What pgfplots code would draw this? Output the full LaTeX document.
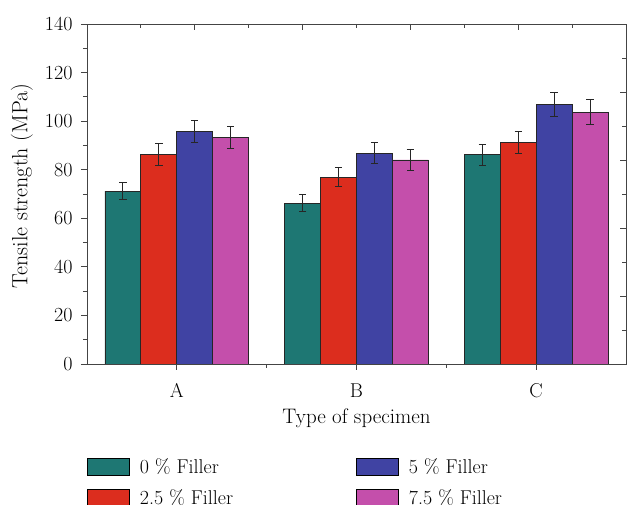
\documentclass[border=0pt]{standalone}
\usepackage{pgfplots}
\pgfplotsset{compat=1.18}
\definecolor{cteal}{HTML}{1E7773}
\definecolor{cred}{HTML}{DC2D1E}
\definecolor{cblue}{HTML}{4043A3}
\definecolor{cpink}{HTML}{C44FAB}
\definecolor{axgray}{HTML}{444444}
\begin{document}
\begin{tikzpicture}
\begin{axis}[
  width=539pt, height=340pt, scale only axis,
  xmin=-0.5, xmax=2.5, ymin=0, ymax=140,
  axis line style={axgray, line width=0.9pt},
  xtick={0,1,2}, xticklabels={A,B,C}, minor xtick={0.5,1.5},
  ytick={0,20,...,140}, minor ytick={10,30,...,130},
  xtick pos=bottom, ytick pos=left,
  tick align=outside,
  major tick length=6pt, minor tick length=4pt,
  tick style={axgray, line width=0.9pt},
  /pgf/number format/assume math mode=true,
  tick label style={font=\fontsize{20}{24}\selectfont, black},
  yticklabel style={xshift=-5pt},
  xticklabel style={yshift=-10pt},
  xlabel={Type of specimen},
  ylabel={Tensile strength (MPa)},
  xlabel style={font=\fontsize{21}{25}\selectfont, at={(axis description cs:0.5,0)}, anchor=north, yshift=-41pt},
  ylabel style={font=\fontsize{22}{26}\selectfont, at={(axis description cs:-0.1206,0.5235)}, anchor=center},
  ybar, bar width=0.2,
  legend image code/.code={\draw[#1, draw=black, line width=0.8pt] (0pt,-8.5pt) rectangle (42pt,8.5pt);},
  legend columns=2, transpose legend,
  legend style={draw=none, fill=none, inner sep=0pt, font=\fontsize{20}{24}\selectfont,
    at={(0,0)}, anchor=north west, xshift=0pt, yshift=-92pt,
    row sep=11pt,
    /tikz/every odd column/.append style={column sep=8pt},
    /tikz/every even column/.append style={column sep=121pt}},
  legend cell align=left,
  error bars/y dir=both, error bars/y explicit,
  error bars/error bar style={line width=1pt, black!85},
  error bars/error mark options={rotate=90, mark size=3.7pt, line width=1pt, black!85},
]
\addplot[fill=cteal, draw=black!85, line width=0.8pt, bar shift=-0.3] coordinates {(0,71.2) +- (0,3.6) (1,66.2) +- (0,3.4) (2,86.1) +- (0,4.4)};
\addplot[fill=cred, draw=black!85, line width=0.8pt, bar shift=-0.1] coordinates {(0,86.2) +- (0,4.4) (1,76.9) +- (0,3.9) (2,91.3) +- (0,4.6)};
\addplot[fill=cblue, draw=black!85, line width=0.8pt, bar shift=0.1] coordinates {(0,95.6) +- (0,4.5) (1,86.8) +- (0,4.2) (2,107.0) +- (0,4.9)};
\addplot[fill=cpink, draw=black!85, line width=0.8pt, bar shift=0.3] coordinates {(0,93.2) +- (0,4.6) (1,84.0) +- (0,4.3) (2,103.7) +- (0,5.1)};
\legend{0 \% Filler, 2.5 \% Filler, 5 \% Filler, 7.5 \% Filler}
\coordinate (SW) at (rel axis cs:0,0);
\coordinate (NE) at (rel axis cs:1,1);
\end{axis}
\begin{axis}[
  width=539pt, height=340pt, scale only axis,
  xmin=0, xmax=10, ymin=0, ymax=10,
  axis x line*=top, axis y line*=right,
  axis line style={axgray, line width=0.9pt, -},
  xtick={2,4,6,8}, minor xtick={1,3,5,7,9},
  ytick={2,4,6,8}, minor ytick={1,3,5,7,9},
  xticklabels={}, yticklabels={},
  tick align=inside,
  major tick length=6pt, minor tick length=4pt,
  tick style={axgray, line width=0.9pt},
]
\end{axis}
\pgfresetboundingbox
\path[use as bounding box] ([shift={(-87pt,-141pt)}]SW) rectangle ([shift={(1pt,24pt)}]NE);
\end{tikzpicture}
\end{document}
